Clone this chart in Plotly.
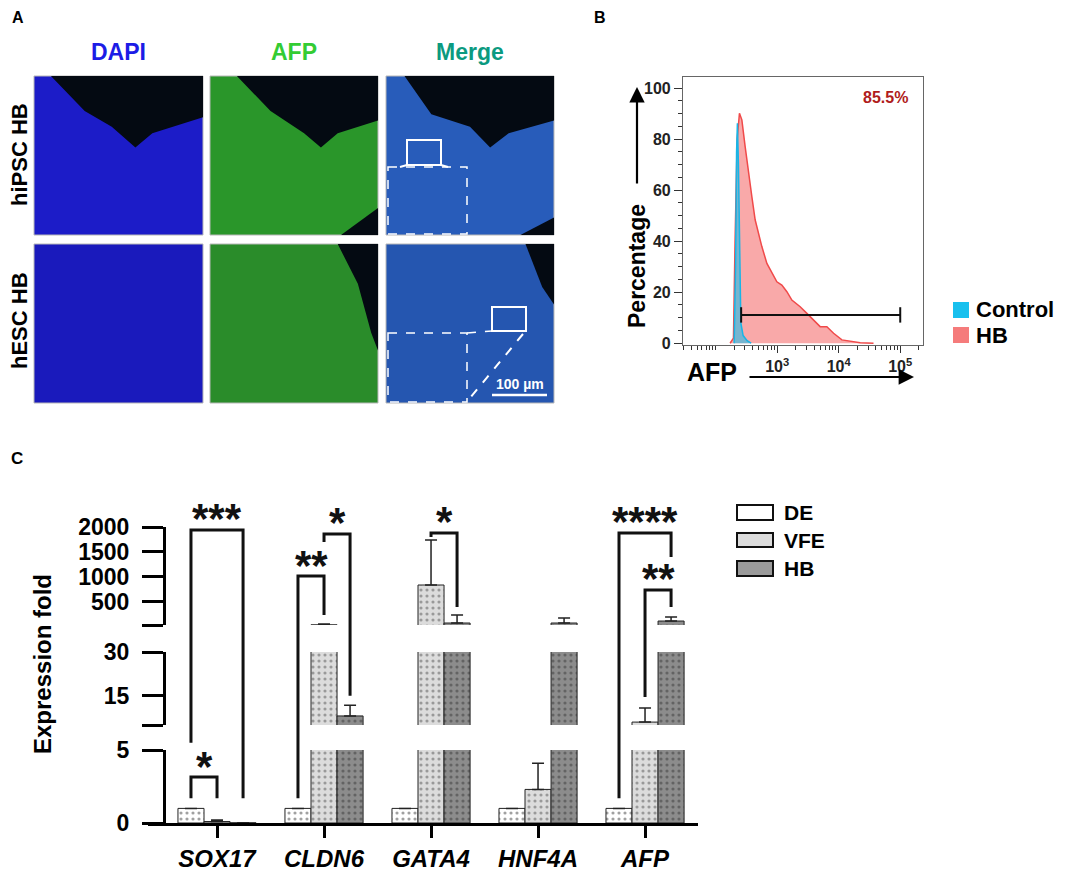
import plotly.graph_objects as go

W, H = 1065, 870
PAGE_OFFSET = 8  # the page body margin shifts the figure by this many pixels
FONT = 'Liberation Sans, Arial, sans-serif'

# ---- panel B: AFP flow histogram
hb_afp = [172, 195, 207, 224, 244, 267, 302, 341, 388, 439, 497, 564, 681, 820, 989,
          1191, 1439, 1734, 2366, 3041, 3908, 5000, 6427, 8260, 11272, 22387, 36813]
hb_pct = [0, 2, 40, 80, 90.2, 87.6, 77.1, 66.6, 57.5, 48.4, 43.1, 37.9, 31.3, 27.4, 24.1,
          22.8, 20.2, 16.9, 14.3, 11.7, 9.1, 6.5, 6.5, 3.9, 1.3, 0.2, 0]
ctrl_afp = [200, 211, 219, 226, 235, 244, 257, 280, 325, 378]
ctrl_pct = [0, 30, 75, 86.3, 70, 40, 8, 3, 1, 0]
gate_afp = [260, 100000]
gate_pct = [11.1, 11.1]
gate_label = '85.5%'

# ---- panel C: qPCR expression fold
genes = ['SOX17', 'CLDN6', 'GATA4', 'HNF4A', 'AFP']
groups = ['DE', 'VFE', 'HB']
de_fold = [1, 1, 1, 1, 1]
de_err = [0, 0, 0, 0, 0]
vfe_fold = [0.1, 35, 834, 2.3, 6.0]
vfe_err = [0.1, 15, 905, 1.8, 4.8]
hb_fold = [0.01, 8.1, 70, 70, 110]
hb_err = [0, 3.7, 160, 100, 80]

# broken y axis: value range, tick values and labels of each segment
seg_ranges = [(0, 5), (5, 30), (30, 2000)]
seg_ticks = [[0, 5], [5, 15, 30], [30, 500, 1000, 1500, 2000]]
seg_labels = [['0', '5'], ['', '15', '30'], ['', '500', '1000', '1500', '2000']]
seg_px = [(823, 750), (725, 652), (625, 527)]  # pixel bottom/top of each segment

# significance: gene, (group a, group b), stars
sig_gene = [0, 0, 1, 1, 2, 4, 4]
sig_pair = [(0, 1), (0, 2), (0, 1), (1, 2), (1, 2), (0, 2), (1, 2)]
sig_stars = ['*', '***', '**', '*', '*', '****', '**']
# bracket heights as (segment, value): left foot, top, right foot
sig_left = [(0, 1.7), (0, 5.5), (0, 1.7), (2, 1698), (2, 1800), (0, 1.7), (1, 14.6)]
sig_top = [(0, 3.15), (2, 1940), (2, 1015), (2, 1860), (2, 1880), (2, 1880), (2, 734)]
sig_right = [(0, 1.7), (0, 1.7), (2, 230), (1, 15), (2, 392), (2, 1397), (2, 392)]


def px(x):
    return (x - PAGE_OFFSET) / W


def py(y):
    return 1 - (y - PAGE_OFFSET) / H


def seg_y(seg, v):
    lo, hi = seg_ranges[seg]
    b, t = seg_px[seg]
    return py(b + (v - lo) / (hi - lo) * (t - b))


fig = go.Figure()
shapes = []
annos = []


def text(x, y, s, size, color='black', angle=0, xanchor='center'):
    annos.append(dict(x=px(x), y=py(y), xref='paper', yref='paper', text=f'<b>{s}</b>',
                      showarrow=False, textangle=angle, xanchor=xanchor, yanchor='middle',
                      font=dict(family=FONT, size=size, color=color)))


def rect(x0, y0, x1, y1, fill, line='rgba(0,0,0,0)', width=1, dash='solid'):
    shapes.append(dict(type='rect', xref='paper', yref='paper', x0=px(x0), y0=py(y0), x1=px(x1),
                       y1=py(y1), fillcolor=fill, line=dict(color=line, width=width, dash=dash)))


def seg(x0, y0, x1, y1, color, width, dash='solid'):
    shapes.append(dict(type='line', xref='paper', yref='paper', x0=px(x0), y0=py(y0), x1=px(x1),
                       y1=py(y1), line=dict(color=color, width=width, dash=dash)))


# ---------------- panel A: immunofluorescence tiles (drawn as flat colour fields)
img_cols = [(34, 203), (210, 378), (386, 554)]
img_rows = [(76, 235), (244, 403)]
tile_color = [['#1c1cc8', '#2a962a', '#285cba'], ['#1a1abc', '#2a8c2a', '#2556b0']]
dark_regions = {
    (0, 0): [[(0.1, 0), (1, 0), (1, 0.26), (0.7, 0.36), (0.6, 0.45), (0.46, 0.32), (0.3, 0.22)]],
    (0, 1): [[(0.16, 0), (1, 0), (1, 0.28), (0.76, 0.36), (0.66, 0.45), (0.56, 0.36), (0.36, 0.22)],
             [(0.78, 1), (1, 0.83), (1, 1)]],
    (0, 2): [[(0.11, 0), (1, 0), (1, 0.28), (0.73, 0.36), (0.62, 0.45), (0.5, 0.32), (0.27, 0.24)],
             [(0.8, 1), (1, 0.89), (1, 1)]],
    (1, 1): [[(0.76, 0), (1, 0), (1, 0.67), (0.96, 0.56), (0.88, 0.25)]],
    (1, 2): [[(0.83, 0), (1, 0), (1, 0.38), (0.93, 0.27)]],
}
for r, (ty0, ty1) in enumerate(img_rows):
    for c, (tx0, tx1) in enumerate(img_cols):
        rect(tx0, ty0, tx1, ty1, tile_color[r][c], '#b8b8b8', 1)
        for poly in dark_regions.get((r, c), []):
            pts = [(px(tx0 + fx * (tx1 - tx0)), py(ty0 + fy * (ty1 - ty0))) for fx, fy in poly]
            path = 'M ' + ' L '.join(f'{a:.4f},{b:.4f}' for a, b in pts) + ' Z'
            shapes.append(dict(type='path', xref='paper', yref='paper', path=path,
                               fillcolor='#040a12', line=dict(width=0)))

# zoom boxes and insets on the merge tiles
rect(407, 140, 441, 165, 'rgba(0,0,0,0)', 'white', 2)
rect(388, 167, 467, 234, 'rgba(0,0,0,0)', 'white', 1.5, 'dash')
seg(407, 165, 400, 167, 'white', 2)
seg(441, 165, 448, 167, 'white', 2)
rect(492, 307, 526, 331, 'rgba(0,0,0,0)', 'white', 2)
rect(388, 333, 467, 402, 'rgba(0,0,0,0)', 'white', 1.5, 'dash')
seg(467, 333, 492, 331, 'white', 1.5, 'dash')
seg(523, 334, 470, 398, 'white', 2, 'dash')
seg(492, 395, 547, 395, 'white', 2.5)
text(520, 384, '100 µm', 14, 'white')

text(118, 52, 'DAPI', 23, '#1c1ce6')
text(294, 52, 'AFP', 23, '#33cc33')
text(470, 52, 'Merge', 23, '#0b9a80')
# the figure starts 8 px into the page, so edge texts sit a little inward
text(19, 155, 'hiPSC HB', 22, angle=-90)
text(19, 321, 'hESC HB', 22, angle=-90)
text(18, 17, 'A', 16)
text(600, 17, 'B', 16)
text(17, 458, 'C', 17)

# ---------------- panel B
fig.add_trace(go.Scatter(x=hb_afp, y=hb_pct, mode='lines', fill='tozeroy', fillcolor='#f9a9a9',
                         line=dict(color='#f04a4a', width=1.5), xaxis='x', yaxis='y',
                         showlegend=False, hoverinfo='skip'))
fig.add_trace(go.Scatter(x=ctrl_afp, y=ctrl_pct, mode='lines', fill='tozeroy',
                         fillcolor='rgba(30,190,235,0.6)', line=dict(color='#19b5e6', width=1.5),
                         xaxis='x', yaxis='y', showlegend=False, hoverinfo='skip'))
fig.add_trace(go.Scatter(x=gate_afp, y=gate_pct, mode='lines+markers', xaxis='x', yaxis='y',
                         line=dict(color='#111', width=2),
                         marker=dict(symbol='line-ns', size=11, line=dict(color='#111', width=2)),
                         showlegend=False, hoverinfo='skip'))
text(885, 98, gate_label, 16, '#b01c1c')

annos.append(dict(x=px(637), y=py(87), xref='paper', yref='paper', ax=0, ay=98, text='',
                  showarrow=True, arrowhead=2, arrowsize=1.4, arrowwidth=2.2, arrowcolor='black'))
annos.append(dict(x=px(914), y=py(377), xref='paper', yref='paper', ax=-166, ay=0, text='',
                  showarrow=True, arrowhead=2, arrowsize=1.4, arrowwidth=2.2, arrowcolor='black'))
text(637, 266, 'Percentage', 23, angle=-90)
text(712, 372, 'AFP', 25)

rect(953, 302, 969, 318, '#18c0ee')
rect(953, 327, 969, 343, '#f57b7b')
text(974, 310, 'Control', 22, xanchor='left')
text(974, 335, 'HB', 22, xanchor='left')

# ---------------- panel C: broken-axis bars
bar_gap = 0.27
bw = (1 - bar_gap) / 3
offsets = [-bw, 0, bw]
group_vals = [de_fold, vfe_fold, hb_fold]
group_errs = [de_err, vfe_err, hb_err]
group_bg = ['#ffffff', '#dcdcdc', '#8c8c8c']
group_fg = ['#444444', '#555555', '#3a3a3a']
xs = list(range(len(genes)))
for s in range(3):
    for g, name in enumerate(groups):
        fig.add_trace(go.Bar(
            x=xs, y=group_vals[g], name=name, offsetgroup=name, xaxis='x2', yaxis=f'y{s + 2}',
            marker=dict(color=group_bg[g], line=dict(color='#222', width=1),
                        pattern=dict(shape='.', fgcolor=group_fg[g], bgcolor=group_bg[g],
                                     size=6, solidity=0.22)),
            error_y=dict(type='data', symmetric=False, array=group_errs[g],
                         arrayminus=[0] * len(genes), color='#222', thickness=1.5, width=6),
            showlegend=False, hoverinfo='skip'))

for i in range(len(sig_gene)):
    a, b = sig_pair[i]
    xa = sig_gene[i] + offsets[a]
    xb = sig_gene[i] + offsets[b]
    yl, yt, yr = seg_y(*sig_left[i]), seg_y(*sig_top[i]), seg_y(*sig_right[i])
    shapes.append(dict(type='path', xref='x2', yref='paper',
                       path=f'M {xa},{yl} L {xa},{yt} L {xb},{yt} L {xb},{yr}',
                       line=dict(color='#111', width=3)))
    annos.append(dict(x=(xa + xb) / 2, y=yt, xref='x2', yref='paper', text=f'<b>{sig_stars[i]}</b>',
                      showarrow=False, yanchor='middle', yshift=11,
                      font=dict(family=FONT, size=42, color='#111')))

text(42, 664, 'Expression fold', 24, angle=-90)

leg_y = [(505, 520), (533, 547), (561, 576)]
leg_fill = ['#ffffff', '#dcdcdc', '#9a9a9a']
for g, name in enumerate(groups):
    rect(737, leg_y[g][0], 773, leg_y[g][1], leg_fill[g], '#111', 2)
    text(782, sum(leg_y[g]) / 2, name, 21, xanchor='left')

layout = dict(
    width=W, height=H, margin=dict(l=0, r=0, t=0, b=0, autoexpand=False),
    paper_bgcolor='white', plot_bgcolor='white',
    font=dict(family=FONT, color='black'),
    barmode='group', bargap=bar_gap, bargroupgap=0,
    shapes=shapes, annotations=annos,
    xaxis=dict(type='log', domain=[px(683), px(923)], range=[1.47, 5.37], anchor='y',
               showline=True, mirror=True, linecolor='#666', linewidth=1.2, showgrid=False,
               zeroline=False, ticks='outside', ticklen=7, tickcolor='#333', automargin=False,
               tickvals=[1e3, 1e4, 1e5],
               ticktext=['<b>10<sup>3</sup></b>', '<b>10<sup>4</sup></b>', '<b>10<sup>5</sup></b>'],
               tickfont=dict(size=16, color='#222'),
               minor=dict(ticks='outside', ticklen=4, tickcolor='#333', dtick='D1')),
    yaxis=dict(domain=[py(345), py(77)], range=[-0.7, 104.4], anchor='x', automargin=False,
               showline=True, mirror=True, linecolor='#666', linewidth=1.2, showgrid=False,
               zeroline=False, ticks='outside', ticklen=8, tickcolor='#333', dtick=20,
               tickfont=dict(size=16, weight='bold', color='#222'),
               minor=dict(ticks='outside', ticklen=4, tickcolor='#333', dtick=5)),
    xaxis2=dict(domain=[px(148), px(698)], range=[-0.645, 4.495], anchor='y2', automargin=False,
                showline=True, linecolor='black', linewidth=3, showgrid=False, zeroline=False,
                ticks='outside', ticklen=12, tickwidth=3, tickcolor='black',
                tickvals=xs, ticktext=[f'<b><i>{g}</i></b>' for g in genes],
                tickfont=dict(size=24, color='black')),
)
for s in range(3):
    layout[f'yaxis{s + 2}'] = dict(
        domain=[seg_y(s, seg_ranges[s][0]), seg_y(s, seg_ranges[s][1])], range=list(seg_ranges[s]),
        anchor='free', position=px(164), showline=True, linecolor='black', linewidth=3,
        showgrid=False, zeroline=False, ticks='outside', ticklen=21, tickwidth=3, automargin=False,
        tickcolor='black', tickvals=seg_ticks[s], ticktext=[f'<b>{t}</b>' if t else '' for t in seg_labels[s]],
        ticklabelstandoff=8, tickfont=dict(size=23, color='black'))

fig.update_layout(**layout)
fig.write_html('out.html')
